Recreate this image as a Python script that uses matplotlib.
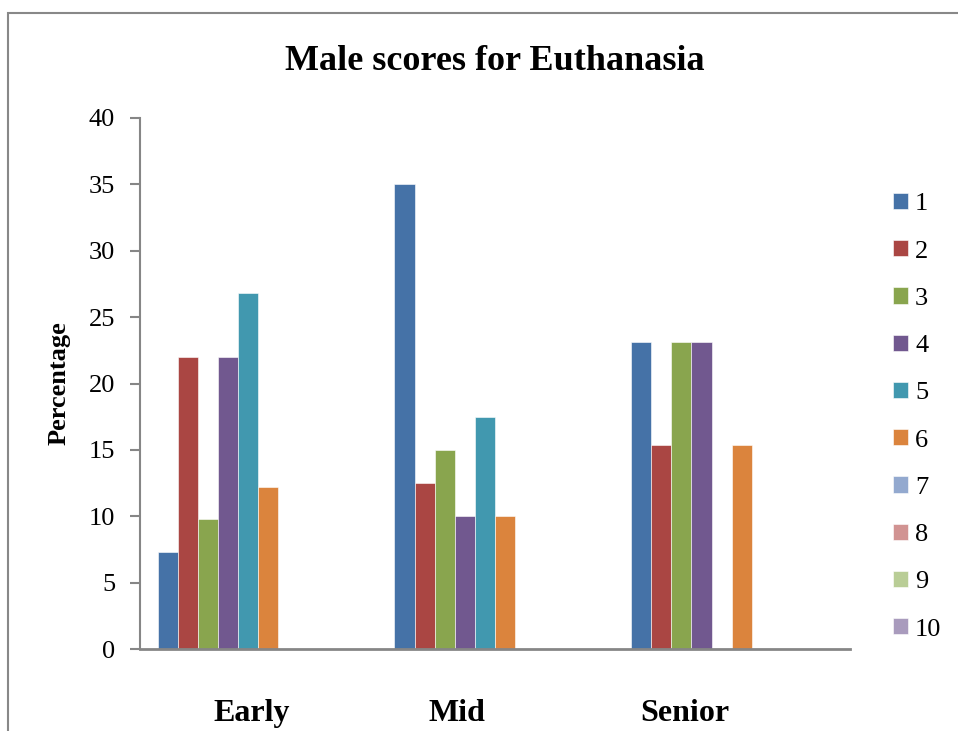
import matplotlib.pyplot as plt
import matplotlib.patches as mpatches
import numpy as np

plt.rcParams['font.family'] = ['Liberation Serif', 'DejaVu Serif']

categories = ['Early', 'Mid', 'Senior']
series_names = ['1', '2', '3', '4', '5', '6', '7', '8', '9', '10']
values = [
    [7.3, 35.0, 23.1],   # 1
    [22.0, 12.5, 15.4],  # 2
    [9.8, 15.0, 23.1],   # 3
    [22.0, 10.0, 23.1],  # 4
    [26.8, 17.5, 0.0],   # 5
    [12.2, 10.0, 15.4],  # 6
    [0.0, 0.0, 0.0],     # 7
    [0.0, 0.0, 0.0],     # 8
    [0.0, 0.0, 0.0],     # 9
    [0.0, 0.0, 0.0],     # 10
]
colors = ['#4572A7', '#AA4643', '#89A54E', '#71588F', '#4198AF',
          '#DB843D', '#93A9CF', '#D19392', '#B9CD96', '#A99BBD']

fig = plt.figure(figsize=(9.58, 7.31), dpi=100)
ax = fig.add_axes([140/958, 1-649/731, 710/958, 531/731])

x = np.arange(len(categories))
n = len(series_names)
w = 0.085
for i in range(n):
    ax.bar(x - (n-1)/2*w + i*w, values[i], width=w, color=colors[i],
           edgecolor='white', linewidth=0.4, label=series_names[i])

ax.set_xlim(-0.5, 2.5)
ax.set_ylim(0, 40)
ax.set_yticks(np.arange(0, 41, 5))
ax.tick_params(axis='y', labelsize=19, length=7, width=1.5, color='#868686', pad=11)
# category labels sit slightly left of the group centres in the original
ax.set_xticks(x + np.array([-0.03, -0.16, -0.2]))
ax.set_xticklabels(categories, fontsize=23, fontweight='bold')
ax.tick_params(axis='x', length=0, pad=36)
for s in ['top', 'right']:
    ax.spines[s].set_visible(False)
for s in ['left', 'bottom']:
    ax.spines[s].set_color('#868686')
ax.spines['left'].set_linewidth(1.5)
ax.spines['bottom'].set_linewidth(2)

ax.set_ylabel('Percentage', fontsize=19, fontweight='bold', labelpad=13)
fig.text(495/958, 1-62/731, 'Male scores for Euthanasia', fontsize=26,
         fontweight='bold', ha='center', va='center')

leg = fig.legend(loc='upper left', bbox_to_anchor=(893/958, 1-193/731),
                 frameon=False, fontsize=19, handlelength=0.57, handleheight=0.57,
                 handletextpad=0.27, labelspacing=0.94, borderpad=0, borderaxespad=0)

# chart area border (left and top visible)
fig.add_artist(mpatches.Rectangle((8/958, -0.1), 1.1, 1.1 - 13/731,
               transform=fig.transFigure, fill=False, edgecolor='#888888', linewidth=1.5))

fig.savefig('out.png', dpi=100)
